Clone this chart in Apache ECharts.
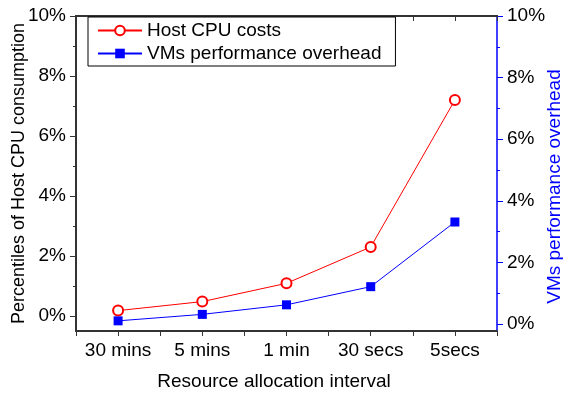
<!DOCTYPE html>
<html>
<head>
<meta charset="utf-8">
<script src="https://cdn.jsdelivr.net/npm/echarts@6/dist/echarts.min.js"></script>
<style>
  html, body { margin: 0; padding: 0; background: #fff; }
  #chart { width: 563px; height: 393px; }
</style>
</head>
<body>
<div id="chart"></div>
<script>
// Resource allocation intervals on the x axis
const categories = ['30 mins', '5 mins', '1 min', '30 secs', '5secs'];
// Host CPU cost, percent (left axis)
const hostCpuCosts = [0.18, 0.48, 1.09, 2.3, 7.2];
// VM performance overhead, percent (right axis)
const vmOverhead = [0.1, 0.31, 0.62, 1.21, 3.31];
// Tick values shown on both y axes
const majorTicks = [0, 2, 4, 6, 8, 10];
const minorTicks = [1, 3, 5, 7, 9];

const FONT = 'Liberation Sans, Arial, sans-serif';
const FS = 19;
const AXIS_GREY = '#333333';
const RED = '#ff0000';
const BLUE = '#0000ff';

const chart = echarts.init(document.getElementById('chart'), null, { renderer: 'canvas' });

function catAxis(position, withLabels, centered, inside) {
  return {
    type: 'category',
    data: categories,
    position: position,
    boundaryGap: true,
    axisLine: { show: withLabels || position === 'top', onZero: false, lineStyle: { color: AXIS_GREY, width: 2 } },
    axisTick: { show: true, interval: 0, alignWithLabel: centered, inside: inside, length: 5, lineStyle: { color: AXIS_GREY, width: 1 } },
    axisLabel: withLabels ? { show: true, interval: 0, margin: 10, color: '#000', fontSize: FS, fontFamily: FONT } : { show: false },
    splitLine: { show: false },
    name: withLabels ? 'Resource allocation interval' : '',
    nameLocation: 'middle',
    nameGap: 41,
    nameMoveOverlap: false,
    nameTextStyle: { color: '#000', fontSize: FS, fontFamily: FONT, padding: [0, 25, 0, 0] }
  };
}

function valAxis(position, min, color, main) {
  return {
    type: 'value',
    position: position,
    min: min,
    max: 10,
    axisLine: { show: main, onZero: false, lineStyle: { color: color, width: main && position === 'left' ? 2 : 1.5 } },
    axisTick: { show: true, length: main ? 6 : 3, customValues: main ? majorTicks : minorTicks, lineStyle: { color: color, width: 1 } },
    axisLabel: main ? {
      show: true, customValues: majorTicks, margin: 10, color: '#000', fontSize: FS, fontFamily: FONT,
      formatter: v => v + '%'
    } : { show: false },
    splitLine: { show: false },
    name: main ? (position === 'left' ? 'Percentiles of Host CPU consumption' : 'VMs performance overhead') : '',
    nameLocation: 'middle',
    nameGap: position === 'left' ? 48 : 48,
    nameMoveOverlap: false,
    nameTextStyle: position === 'left'
      ? { color: '#000', fontSize: 18, fontFamily: FONT }
      : { color: BLUE, fontSize: FS, fontFamily: FONT, padding: [0, 26, 0, 0] }
  };
}

const option = {
  animation: false,
  backgroundColor: '#ffffff',
  grid: { left: 76, right: 66, top: 16, bottom: 62, containLabel: false, outerBoundsMode: 'none' },
  legend: {
    orient: 'vertical',
    left: 88,
    top: 17,
    padding: [4, 14, 3, 9],
    itemWidth: 44,
    itemHeight: 12,
    itemGap: 4,
    borderColor: '#000',
    borderWidth: 1,
    backgroundColor: '#fff',
    textStyle: { color: '#000', fontSize: FS, fontFamily: FONT, lineHeight: 19 },
    data: ['Host CPU costs', 'VMs performance overhead']
  },
  xAxis: [
    catAxis('bottom', true, false, false),
    catAxis('bottom', false, true, false),
    catAxis('top', false, false, true),
    catAxis('top', false, true, true)
  ],
  yAxis: [
    valAxis('left', -0.5, AXIS_GREY, true),
    valAxis('right', -0.23, BLUE, true),
    valAxis('left', -0.5, AXIS_GREY, false),
    valAxis('right', -0.23, BLUE, false)
  ],
  series: [
    {
      name: 'Host CPU costs',
      type: 'line',
      xAxisIndex: 0,
      yAxisIndex: 0,
      data: hostCpuCosts,
      symbol: 'emptyCircle',
      symbolSize: 10,
      lineStyle: { color: RED, width: 1 },
      itemStyle: { color: RED, borderColor: RED, borderWidth: 1 },
      z: 3
    },
    {
      name: 'VMs performance overhead',
      type: 'line',
      xAxisIndex: 0,
      yAxisIndex: 1,
      data: vmOverhead,
      symbol: 'rect',
      symbolSize: 9,
      lineStyle: { color: BLUE, width: 1 },
      itemStyle: { color: BLUE },
      z: 3
    }
  ]
};

chart.setOption(option);
</script>
</body>
</html>
